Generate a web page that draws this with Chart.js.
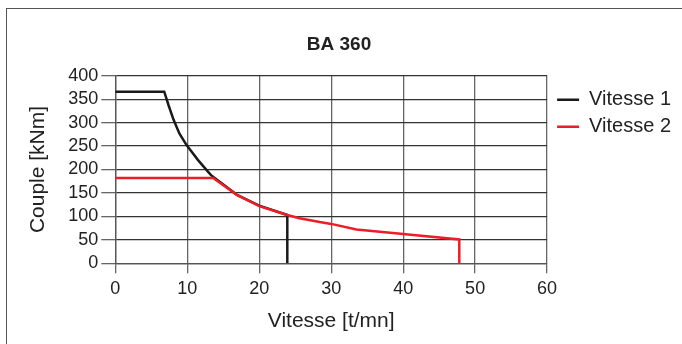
<!DOCTYPE html>
<html><head><meta charset="utf-8">
<script src="https://cdn.jsdelivr.net/npm/chart.js@4/dist/chart.umd.min.js"></script>
<style>
html,body{margin:0;padding:0;background:#fff;}
#wrap{position:relative;width:682px;height:344px;}
#frame{position:absolute;left:6px;top:8px;width:690px;height:350px;border-top:1.5px solid #555;border-left:1.5px solid #555;}
canvas{position:absolute;left:0;top:0;}
</style></head>
<body><div id="wrap"><div id="frame"></div><canvas id="c" width="682" height="344"></canvas></div>
<script>
const title = 'BA 360';
const xTitle = 'Vitesse [t/mn]';
const yTitle = 'Couple [kNm]';
const seriesNames = ['Vitesse 1', 'Vitesse 2'];
const v1x = [0, 6.8, 7.4, 8.1, 8.9, 9.9, 10.4, 11.5, 12.9, 13.3, 16.9, 20, 23.9, 23.9];
const v1y = [366, 366, 337, 306, 277, 252, 242, 220, 195, 188, 146, 123, 103, 0];
const v2x = [0, 13.6, 16.9, 20, 23.9, 25.6, 28.4, 30, 33.5, 40, 47.8, 47.8];
const v2y = [182, 182, 146, 122, 103, 96, 88, 84, 72, 62.5, 51, 0];
const xMin = 0, xMax = 60, xStep = 10;
const yMin = 0, yMax = 400, yStep = 50;

const toPts = (xs, ys) => xs.map((x, i) => ({x: x, y: ys[i]}));
const font = 'Liberation Sans, Arial, Helvetica, sans-serif';
const txt = '#222';

const legendShift = {
  id: 'legendShift',
  afterLayout(chart) {
    const lg = chart.legend;
    if (!lg) return;
    lg.left += 3; lg.right += 3;
    lg.top += 7; lg.bottom += 7;
  }
};

new Chart(document.getElementById('c'), {
  type: 'line',
  data: {
    datasets: [
      {label: seriesNames[0], data: toPts(v1x, v1y), borderColor: '#1a1a1a', backgroundColor: '#1a1a1a', borderWidth: 2.5, pointRadius: 0, tension: 0, order: 2},
      {label: seriesNames[1], data: toPts(v2x, v2y), borderColor: '#ee1c25', backgroundColor: '#ee1c25', borderWidth: 2.5, pointRadius: 0, tension: 0, order: 1}
    ]
  },
  plugins: [legendShift],
  options: {
    responsive: false,
    animation: false,
    layout: {padding: {left: 0, right: 4, top: 0, bottom: 0}},
    plugins: {
      title: {display: true, text: title, color: txt, font: {family: font, size: 19, weight: 'bold'}, padding: {top: 33.6, bottom: 19.3}},
      legend: {
        position: 'right', align: 'start', fullSize: false,
        labels: {
          color: txt, font: {family: font, size: 20}, usePointStyle: true, pointStyle: 'line', pointStyleWidth: 22, padding: 7,
          sort: (a, b) => a.datasetIndex - b.datasetIndex
        }
      },
      tooltip: {enabled: false}
    },
    scales: {
      x: {
        type: 'linear', min: xMin, max: xMax,
        ticks: {stepSize: xStep, autoSkip: false, color: txt, font: {family: font, size: 18}, padding: 5},
        grid: {color: '#666', lineWidth: 1.3, tickLength: 10, tickColor: '#666'},
        border: {color: '#555', width: 1.3},
        title: {display: true, text: xTitle, color: txt, font: {family: font, size: 21}, padding: {top: 4, bottom: 10.4}},
        afterFit: s => { s.height = 80.7; }
      },
      y: {
        type: 'linear', min: yMin, max: yMax,
        ticks: {stepSize: yStep, autoSkip: false, color: txt, font: {family: font, size: 18}, padding: 3},
        grid: {color: '#333', lineWidth: 1.3, tickLength: 14, tickColor: '#666'},
        border: {color: '#555', width: 1.3},
        title: {display: true, text: yTitle, color: txt, font: {family: font, size: 21}, padding: {top: 25.4, bottom: 0}},
        afterFit: s => { s.width = 115.3; }
      }
    }
  }
});
</script></body></html>
